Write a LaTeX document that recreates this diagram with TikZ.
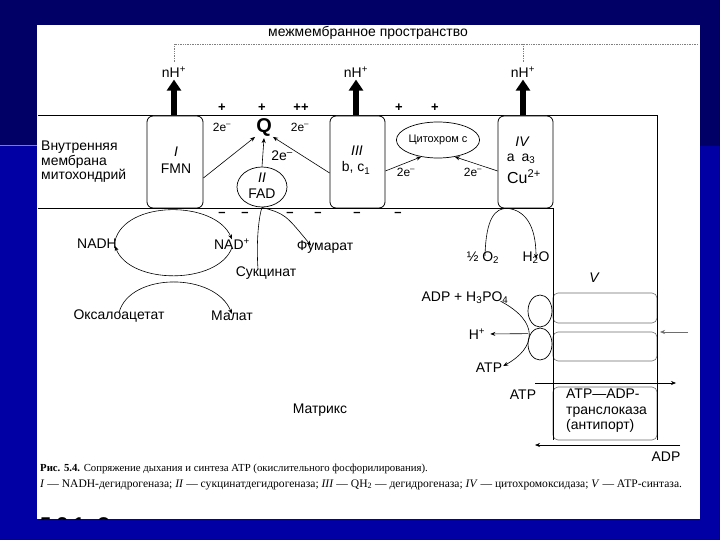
\documentclass[tikz,border=0pt]{standalone}
\usepackage{fontspec}
\setmainfont{Liberation Sans}
\newfontfamily\capfont{Liberation Serif}
\usetikzlibrary{arrows.meta,shapes.geometric}
\definecolor{bgtop}{RGB}{0,0,102}
\definecolor{bgmain}{RGB}{0,0,165}
\definecolor{bgline}{RGB}{90,130,255}
\definecolor{faint}{RGB}{110,110,110}
\tikzset{
 lbl/.style={inner sep=0pt, font=\fontsize{14}{14.5}\selectfont},
 ilbl/.style={inner sep=0pt, font=\fontsize{14}{14.5}\selectfont\itshape},
 small/.style={inner sep=0pt, font=\fontsize{12}{13}\selectfont},
 mem/.style={line width=0.8bp, black},
 cbox/.style={draw, line width=0.8bp, fill=white, rounded corners=6bp, minimum width=56bp, minimum height=92bp, inner sep=0pt},
 ell/.style={draw, ellipse, line width=0.7bp, fill=white, inner sep=0pt},
 eline/.style={line width=0.6bp, -{Stealth[length=5bp,width=4bp]}},
 bigarrow/.style={line width=6bp, -{Triangle[length=11bp,width=14bp]}},
 dotline/.style={densely dotted, line width=0.7bp, gray},
 faintbox/.style={draw=faint, line width=0.6bp, rounded corners=5bp},
}
\begin{document}
\begin{tikzpicture}[x=1bp,y=-1bp]
\useasboundingbox (0,0) rectangle (720,540);
\fill[bgmain] (0,0) rectangle (720,540);
\fill[bgtop] (0,0) rectangle (720,146);
\draw[bgline, line width=1.5bp] (0,145.5) -- (37,145.5);
\fill[white] (37,25) rectangle (700,519);

% intermembrane space
\node[lbl] (ims) at (368,33) {межмембранное пространство};
\coordinate (d1) at (174,62); \coordinate (d1t) at (174,44); \coordinate (dend) at (698,44);
\coordinate (d4) at (523,62); \coordinate (d4t) at (523,44);
\draw[dotline] (d1) -- (d1t) -- (dend);
\draw[dotline] (d4) -- (d4t);
\node[lbl] (nh1) at (174,72) {nH\textsuperscript{+}};
\node[lbl] (nh3) at (356,72) {nH\textsuperscript{+}};
\node[lbl] (nh4) at (523,72) {nH\textsuperscript{+}};

% membrane
\coordinate (mTL) at (38,115); \coordinate (mTR) at (657,115); \coordinate (mRB) at (657,440);
\coordinate (mBL) at (38,208); \coordinate (mBR) at (553,208); \coordinate (mIB) at (553,440);
\draw[faintbox] (553,293) rectangle (657,323);
\draw[faintbox] (553,332) rectangle (657,361);
\draw[faintbox] (553,387) rectangle (657,440);
\draw[mem] (mTL) -- (mTR) -- (mRB);
\draw[mem] (mBL) -- (mBR) -- (mIB);

% complexes
\node[cbox] (c1) at (175,162) {};
\node[cbox, minimum width=55bp] (c3) at (357.5,162) {};
\node[cbox, minimum width=55bp] (c4) at (525.5,162) {};
\node[ilbl] (t1) at (176,152) {I};
\node[lbl] (t1b) at (176,169) {FMN};
\node[ilbl] (t3) at (357,151) {III};
\node[lbl] (t3b) at (356,168) {b, c\textsubscript{1}};
\node[ilbl] (t4) at (522,142) {IV};
\node[lbl] (t4b) at (521,159) {a\enspace a\textsubscript{3}};
\node[inner sep=0pt, font=\fontsize{16}{18}\selectfont] (t4c) at (524,177) {Cu\textsuperscript{2+}};

% thick proton arrows
\coordinate (a1) at (174,115); \coordinate (a3) at (356,115); \coordinate (a4) at (523,115);
\draw[bigarrow, shorten >=2bp] (a1) -- (nh1);
\draw[bigarrow, shorten >=2bp] (a3) -- (nh3);
\draw[bigarrow, shorten >=2bp] (a4) -- (nh4);

% Q, FAD, cytochrome c
\node[inner sep=1bp, font=\fontsize{20}{22}\selectfont\bfseries] (q) at (264,128) {Q};
\node[ell, minimum width=50bp, minimum height=40bp] (fad) at (262,187) {};
\node[ilbl] (t2) at (262,178) {II};
\node[lbl] (t2b) at (262,194) {FAD};
\node[ell, minimum width=80bp, minimum height=36bp, font=\fontsize{11}{12}\selectfont] (cyt) at (438,140) {Цитохром с};

\draw[eline] ([yshift=-16bp]c1.east) -- (q.225);
\draw[eline] ([yshift=-11bp]c3.west) -- (q.315);
\draw[eline] (fad.north) -- (q.south);
\draw[eline] ([yshift=-9bp]c3.east) -- (cyt.225);
\draw[eline] ([yshift=-9bp]c4.west) -- (cyt.315);

\node[small] (e1) at (222,127) {2e\textsuperscript{–}};
\node[small] (e2) at (300,127) {2e\textsuperscript{–}};
\node[lbl] (e3) at (282,156) {2e\textsuperscript{–}};
\node[small] (e4) at (406,172) {2e\textsuperscript{–}};
\node[small] (e5) at (473,172) {2e\textsuperscript{–}};

\foreach \px/\s in {222/+,262/+,301/++,399/+,435/+}
  \node[lbl, font=\fontsize{13}{15}\selectfont\bfseries] at (\px,108) {\s};
\foreach \px in {222,245,290,318,357,398}
  \node[lbl, font=\fontsize{13}{15}\selectfont\bfseries] at (\px,214) {–};

\node[lbl, anchor=west, align=left] (inner) at (41,162) {Внутренняя\\мембрана\\митохондрий};

% NADH cycle
\node[lbl] (nadh) at (97,244) {NADH};
\node[lbl] (nad) at (232,244) {NAD\textsuperscript{+}};
\node[lbl] (fum) at (325,247) {Фумарат};
\node[lbl] (suc) at (266,273) {Сукцинат};
\node[lbl] (oxa) at (119,316) {Оксалоацетат};
\node[lbl] (mal) at (232,316) {Малат};
\draw[eline] ([xshift=-2bp,yshift=-2bp]nadh.north east) .. controls (125,200) and (215,200) .. ([yshift=-1bp]nad.north);
\draw[eline] ([yshift=2bp]nad.south) .. controls (218,285) and (130,285) .. ([xshift=-2bp,yshift=3bp]nadh.south east);
\draw[eline] ([yshift=-3bp]oxa.north) .. controls (130,272) and (215,272) .. ([yshift=-3bp]mal.north);
\draw[line width=0.6bp] ([xshift=-8bp,yshift=-3bp]suc.north) .. controls (256,240) and (259,216) .. (fad.south);
\draw[eline] (fad.south) .. controls (285,214) .. ([xshift=-14bp,yshift=-5bp]fum.north);

% O2 / H2O
\node[lbl] (o2) at (483,258) {½ O\textsubscript{2}};
\node[lbl] (h2o) at (536,258) {H\textsubscript{2}O};
\draw[eline] ([xshift=2bp,yshift=-4bp]o2.north) .. controls (486,218) and (495,208) .. ([xshift=-18bp]c4.south) .. controls (524,210) and (536,224) .. ([yshift=-7bp]h2o.north);

% ATP synthase
\node[ell, minimum width=24bp, minimum height=32bp] (f1) at (540,311) {};
\node[ell, minimum width=24bp, minimum height=32bp] (f2) at (540,344) {};
\node[ilbl] (vlab) at (594,278) {V};
\node[lbl] (adp) at (465,298) {ADP + H\textsubscript{3}PO\textsubscript{4}};
\node[lbl] (hp) at (477,334) {H\textsuperscript{+}};
\node[lbl] (atp1) at (489,368) {ATP};
\draw[eline, shorten >=5bp] ([xshift=-12bp,yshift=-6bp]f2.north) -- (hp.east);
\draw[eline] ([xshift=-8bp,yshift=3bp]adp.south east) .. controls (540,322) and (536,348) .. ([xshift=1bp,yshift=-3bp]atp1.north east);
\coordinate (hin1) at (688,332); \coordinate (hin2) at (660,332);
\draw[eline, faint] (hin1) -- (hin2);

% translocase
\coordinate (atpS) at (535,383); \coordinate (atpE) at (676,383);
\draw[eline] (atpS) -- (atpE);
\node[lbl] (atp2) at (523,395) {ATP};
\node[lbl, anchor=west, align=left] (anti) at (566,411) {ATP—ADP-\\[1bp]транслоказа\\[1bp](антипорт)};
\coordinate (adpS) at (680,445); \coordinate (adpE) at (535,445);
\draw[eline] (adpS) -- (adpE);
\node[lbl] (adp2) at (666,457) {ADP};

\node[lbl] (matrix) at (320,410) {Матрикс};

% caption
\node[anchor=base west, inner sep=0pt, font=\capfont\fontsize{10.8}{12}\selectfont] (cap1) at (40,471) {\textbf{Рис. 5.4.} Сопряжение дыхания и синтеза АТР (окислительного фосфорилирования).};
\node[anchor=base west, inner sep=0pt, font=\capfont\fontsize{11.6}{13}\selectfont] (cap2) at (40,487) {\textit{I} — NADH-дегидрогеназа; \textit{II} — сукцинатдегидрогеназа; \textit{III} — QH\textsubscript{2} — дегидрогеназа; \textit{IV} — цитохромоксидаза; \textit{V} — АТР-синтаза.};
\begin{scope}
\clip (37,505) rectangle (700,519);
\node[anchor=base west, inner sep=0pt, font=\fontsize{20}{22}\selectfont\bfseries] (next) at (40,531) {5.3.1. Задание};
\end{scope}
\end{tikzpicture}
\end{document}
